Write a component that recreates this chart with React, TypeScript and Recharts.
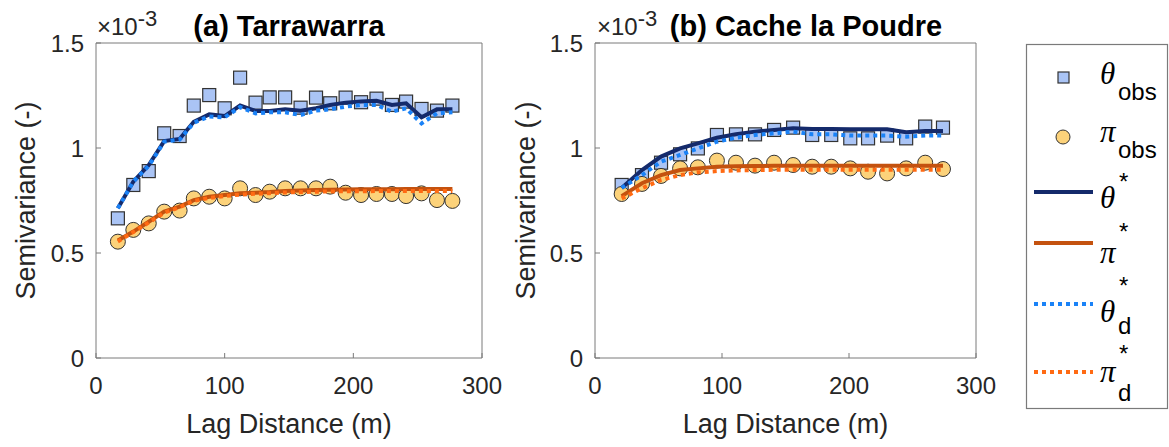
import React from 'react';
import { ComposedChart, Scatter, Line, XAxis, YAxis } from 'recharts';

// values are in units of 1e-3
const lagA = [17, 29, 41, 53, 65, 76, 88, 100, 112, 124, 135, 147, 159, 171, 182, 194, 206, 218, 230, 241, 253, 265, 277];
const thetaObsA = [0.665, 0.824, 0.89, 1.07, 1.057, 1.202, 1.252, 1.189, 1.335, 1.216, 1.241, 1.241, 1.192, 1.24, 1.213, 1.24, 1.218, 1.235, 1.205, 1.221, 1.186, 1.178, 1.202];
const piObsA = [0.554, 0.61, 0.641, 0.697, 0.702, 0.76, 0.768, 0.76, 0.808, 0.776, 0.792, 0.808, 0.808, 0.808, 0.816, 0.787, 0.776, 0.781, 0.781, 0.771, 0.784, 0.752, 0.748];
const thetaFitA = [0.713, 0.84, 0.919, 1.033, 1.043, 1.125, 1.16, 1.152, 1.202, 1.176, 1.176, 1.184, 1.178, 1.189, 1.205, 1.216, 1.221, 1.225, 1.205, 1.213, 1.146, 1.184, 1.184];
const thetaDA = [0.713, 0.84, 0.915, 1.03, 1.04, 1.12, 1.15, 1.146, 1.195, 1.165, 1.17, 1.17, 1.157, 1.178, 1.184, 1.197, 1.205, 1.205, 1.173, 1.189, 1.117, 1.165, 1.17];
const piFitA = [0.56, 0.602, 0.649, 0.697, 0.721, 0.752, 0.768, 0.776, 0.784, 0.787, 0.79, 0.795, 0.798, 0.8, 0.801, 0.802, 0.803, 0.804, 0.804, 0.805, 0.805, 0.805, 0.805];
const piDA = [0.555, 0.6, 0.645, 0.692, 0.718, 0.748, 0.762, 0.771, 0.778, 0.782, 0.785, 0.788, 0.79, 0.792, 0.793, 0.794, 0.794, 0.795, 0.795, 0.795, 0.795, 0.795, 0.795];

const lagB = [21, 37, 52, 67, 81, 96, 111, 126, 141, 156, 171, 186, 201, 215, 230, 245, 260, 274];
const thetaObsB = [0.824, 0.871, 0.93, 0.97, 0.998, 1.062, 1.065, 1.065, 1.086, 1.097, 1.062, 1.062, 1.046, 1.046, 1.059, 1.046, 1.102, 1.097];
const piObsB = [0.781, 0.829, 0.867, 0.903, 0.908, 0.94, 0.93, 0.916, 0.93, 0.919, 0.911, 0.911, 0.903, 0.887, 0.879, 0.903, 0.93, 0.9];
const thetaFitB = [0.81, 0.895, 0.959, 0.998, 1.022, 1.049, 1.065, 1.078, 1.086, 1.094, 1.09, 1.09, 1.089, 1.089, 1.089, 1.075, 1.081, 1.081];
const thetaDB = [0.81, 0.871, 0.935, 0.967, 0.998, 1.03, 1.049, 1.062, 1.07, 1.078, 1.065, 1.065, 1.059, 1.059, 1.059, 1.054, 1.059, 1.059];
const piFitB = [0.771, 0.832, 0.871, 0.895, 0.903, 0.911, 0.913, 0.914, 0.915, 0.915, 0.915, 0.915, 0.915, 0.915, 0.915, 0.915, 0.915, 0.915];
const piDB = [0.76, 0.808, 0.848, 0.871, 0.884, 0.89, 0.893, 0.895, 0.896, 0.897, 0.897, 0.897, 0.897, 0.897, 0.897, 0.897, 0.897, 0.897];

const xTicks = [0, 100, 200, 300];
const yTicks = [0, 0.5, 1, 1.5];

const FONT = '"Liberation Sans", Arial, Helvetica, sans-serif';
const TXT = '#262626';
const AXIS = '#7a7a7a';
const C_SQ = '#aac4f5';
const C_CI = '#fcd27a';
const C_THETA = '#142a6b';
const C_PI = '#c4520f';
const C_THETA_D = '#1a82f7';
const C_PI_D = '#ff6a13';

const pts = (xs: number[], ys: number[]) => xs.map((x, i) => ({ x, y: ys[i] }));

const Square = (p: any) => (
  <rect x={p.cx - 6.5} y={p.cy - 6.5} width={13} height={13} fill={C_SQ} stroke="#333" strokeWidth={1.2} />
);
const Circle = (p: any) => (
  <circle cx={p.cx} cy={p.cy} r={7.5} fill={C_CI} stroke="#333" strokeWidth={1} />
);

interface PanelProps {
  left: number;
  width: number;
  yAxisWidth: number;
  marginRight: number;
  lag: number[];
  thetaObs: number[];
  piObs: number[];
  thetaFit: number[];
  piFit: number[];
  thetaD: number[];
  piD: number[];
}

function Panel(p: PanelProps) {
  return (
    <div style={{ position: 'absolute', left: p.left, top: 0 }}>
      <ComposedChart
        width={p.width}
        height={447}
        margin={{ top: 42, right: p.marginRight, bottom: 0, left: 0 }}
        style={{ fontFamily: FONT }}
      >
        <XAxis
          dataKey="x"
          type="number"
          domain={[0, 300]}
          ticks={xTicks}
          height={89}
          stroke={AXIS}
          tickSize={-5}
          tickMargin={24}
          tick={{ fill: TXT, fontSize: 24 }}
          label={{ value: 'Lag Distance (m)', position: 'insideBottom', offset: 14, fill: TXT, fontSize: 27 }}
        />
        <XAxis
          xAxisId="top"
          orientation="top"
          dataKey="x"
          type="number"
          domain={[0, 300]}
          ticks={xTicks}
          height={1}
          stroke={AXIS}
          tickSize={-5}
          tick={false}
        />
        <YAxis
          dataKey="y"
          type="number"
          domain={[0, 1.5]}
          ticks={yTicks}
          width={p.yAxisWidth}
          stroke={AXIS}
          tickSize={-5}
          tickMargin={17}
          tick={{ fill: TXT, fontSize: 24 }}
          label={{
            value: 'Semivariance (-)',
            angle: -90,
            position: 'insideLeft',
            offset: 25,
            fill: TXT,
            fontSize: 27,
            style: { textAnchor: 'middle' },
          }}
        />
        <YAxis
          yAxisId="right"
          orientation="right"
          type="number"
          domain={[0, 1.5]}
          ticks={yTicks}
          width={1}
          stroke={AXIS}
          tickSize={-5}
          tick={false}
        />
        <Scatter data={pts(p.lag, p.thetaObs)} dataKey="y" shape={Square} isAnimationActive={false} />
        <Scatter data={pts(p.lag, p.piObs)} dataKey="y" shape={Circle} isAnimationActive={false} />
        <Line data={pts(p.lag, p.thetaFit)} dataKey="y" stroke={C_THETA} strokeWidth={4} dot={false} isAnimationActive={false} zIndex={700} />
        <Line data={pts(p.lag, p.piFit)} dataKey="y" stroke={C_PI} strokeWidth={4} dot={false} isAnimationActive={false} zIndex={700} />
        <Line data={pts(p.lag, p.thetaD)} dataKey="y" stroke={C_THETA_D} strokeWidth={4} strokeDasharray="4 4" dot={false} isAnimationActive={false} zIndex={710} />
        <Line data={pts(p.lag, p.piD)} dataKey="y" stroke={C_PI_D} strokeWidth={4} strokeDasharray="4 4" dot={false} isAnimationActive={false} zIndex={710} />
      </ComposedChart>
    </div>
  );
}

function Overlay() {
  const greek = { fontFamily: '"Liberation Serif", "DejaVu Serif", serif', fontStyle: 'italic' as const, fontSize: 31 };
  const sub = { fontFamily: FONT, fontSize: 24 };
  return (
    <svg width={1169} height={447} style={{ position: 'absolute', left: 0, top: 0, pointerEvents: 'none', fontFamily: FONT }}>
      {/* exponent labels */}
      <text x={97} y={35} fill={TXT} fontSize={24}>
        ×10<tspan dy={-9} fontSize={22}>-3</tspan>
      </text>
      <text x={597} y={35} fill={TXT} fontSize={24}>
        ×10<tspan dy={-9} fontSize={22}>-3</tspan>
      </text>
      <text x={289} y={36} textAnchor="middle" fontWeight="bold" fontSize={29} fill="#000">(a) Tarrawarra</text>
      <text x={806} y={36} textAnchor="middle" fontWeight="bold" fontSize={29} fill="#000">(b) Cache la Poudre</text>

      {/* legend */}
      <g transform="translate(1026,44)">
        <rect x={0.5} y={0.5} width={141} height={364} fill="#fff" stroke={AXIS} strokeWidth={1.2} />
        <rect x={32} y={28} width={11} height={11} fill={C_SQ} stroke="#333" strokeWidth={1.2} />
        <text x={74} y={40} fill="#000" {...greek}>θ</text>
        <text x={92} y={56} fill="#000" {...sub}>obs</text>

        <circle cx={37} cy={93} r={7} fill={C_CI} stroke="#333" strokeWidth={1} />
        <text x={74} y={98} fill="#000" {...greek}>π</text>
        <text x={92} y={114} fill="#000" {...sub}>obs</text>

        <line x1={8} x2={67} y1={148} y2={148} stroke={C_THETA} strokeWidth={4} />
        <text x={74} y={164} fill="#000" {...greek}>θ</text>
        <text x={93} y={146} fill="#000" {...sub}>*</text>

        <line x1={8} x2={67} y1={199} y2={199} stroke={C_PI} strokeWidth={4} />
        <text x={74} y={219} fill="#000" {...greek}>π</text>
        <text x={93} y={196} fill="#000" {...sub}>*</text>

        <line x1={8} x2={67} y1={260} y2={260} stroke={C_THETA_D} strokeWidth={4} strokeDasharray="4 4" />
        <text x={74} y={278} fill="#000" {...greek}>θ</text>
        <text x={93} y={250} fill="#000" {...sub}>*</text>
        <text x={92} y={290} fill="#000" {...sub}>d</text>

        <line x1={8} x2={67} y1={328} y2={328} stroke={C_PI_D} strokeWidth={4} strokeDasharray="4 4" />
        <text x={74} y={338} fill="#000" {...greek}>π</text>
        <text x={93} y={318} fill="#000" {...sub}>*</text>
        <text x={92} y={357} fill="#000" {...sub}>d</text>
      </g>
    </svg>
  );
}

export default function App() {
  return (
    <div style={{ position: 'absolute', left: 0, top: 0, width: 1169, height: 447, background: '#fff', fontFamily: FONT }}>
      <Panel
        left={0}
        width={530}
        yAxisWidth={96}
        marginRight={47}
        lag={lagA}
        thetaObs={thetaObsA}
        piObs={piObsA}
        thetaFit={thetaFitA}
        piFit={piFitA}
        thetaD={thetaDA}
        piD={piDA}
      />
      <Panel
        left={500}
        width={520}
        yAxisWidth={95}
        marginRight={43}
        lag={lagB}
        thetaObs={thetaObsB}
        piObs={piObsB}
        thetaFit={thetaFitB}
        piFit={piFitB}
        thetaD={thetaDB}
        piD={piDB}
      />
      <Overlay />
    </div>
  );
}
